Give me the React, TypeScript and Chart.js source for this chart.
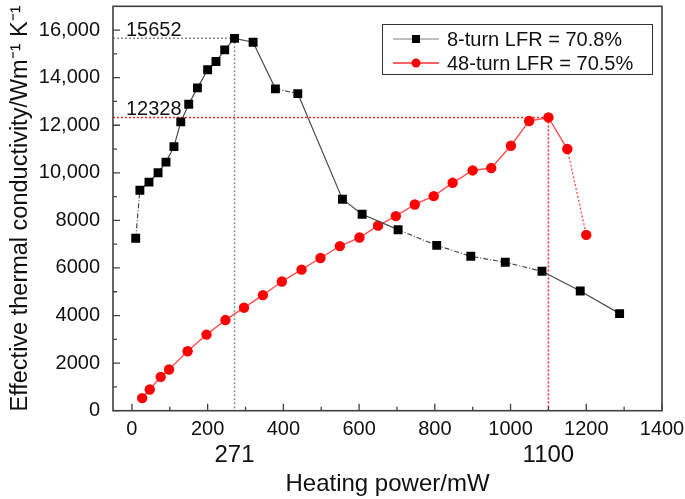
import React, { useEffect, useRef } from "react";
import { Chart, registerables } from "chart.js";
Chart.register(...registerables);

const FONT = "'Liberation Sans', Arial, Helvetica, sans-serif";

const seriesLabels = ["8-turn LFR = 70.8%", "48-turn LFR = 70.5%"];

const turn8Power = [10, 21, 45, 69, 90, 111, 129, 150, 173, 200, 222, 245, 271, 320, 379, 438, 556, 608, 703, 805, 895, 986, 1083, 1184, 1288];
const turn8K = [7250, 9270, 9610, 10000, 10450, 11100, 12140, 12880, 13570, 14330, 14680, 15170, 15652, 15490, 13530, 13330, 8890, 8260, 7610, 6950, 6490, 6240, 5860, 5030, 4080];

const turn48Power = [27, 47, 76, 98, 147, 197, 247, 296, 346, 396, 448, 498, 549, 601, 650, 697, 747, 797, 847, 900, 949, 1001, 1049, 1100, 1150, 1200];
const turn48K = [530, 890, 1420, 1730, 2500, 3200, 3810, 4330, 4860, 5430, 5930, 6420, 6920, 7280, 7780, 8180, 8670, 9020, 9580, 10100, 10200, 11140, 12180, 12328, 11000, 7390];

const xTicks = [0, 200, 400, 600, 800, 1000, 1200, 1400];
const xMinorTicks = [100, 300, 500, 700, 900, 1100, 1300];
const yTicks = [0, 2000, 4000, 6000, 8000, 10000, 12000, 14000, 16000];
const yMinorTicks = [1000, 3000, 5000, 7000, 9000, 11000, 13000, 15000];

const peak8Power = 271;
const peak8K = 15652;
const peak48Power = 1100;
const peak48K = 12328;

const BLACK_DASHED = [0, 14, 18, 19, 20, 21];

const decor = {
  id: "decor",
  beforeDatasetsDraw(chart: any) {
    const { ctx, chartArea: a, scales } = chart;
    const x = scales.x, y = scales.y;
    ctx.save();
    ctx.lineWidth = 1.5;
    ctx.setLineDash([2, 2]);
    ctx.strokeStyle = "#8c8c8c";
    const gx = x.getPixelForValue(peak8Power), gy = y.getPixelForValue(peak8K);
    ctx.beginPath();
    ctx.moveTo(a.left, gy); ctx.lineTo(gx, gy);
    ctx.moveTo(gx, gy); ctx.lineTo(gx, a.bottom);
    ctx.stroke();
    ctx.strokeStyle = "#ff2a2a";
    const rx = x.getPixelForValue(peak48Power), ry = y.getPixelForValue(peak48K);
    ctx.beginPath();
    ctx.moveTo(a.left, ry); ctx.lineTo(rx, ry);
    ctx.moveTo(rx, ry); ctx.lineTo(rx, a.bottom);
    ctx.stroke();
    ctx.setLineDash([]);
    ctx.fillStyle = "#111";
    ctx.font = `20px ${FONT}`;
    ctx.textAlign = "left";
    ctx.textBaseline = "alphabetic";
    ctx.fillText(String(peak8K), a.left + 13, gy - 2);
    ctx.fillText(String(peak48K), a.left + 13, ry - 2);
    ctx.restore();
  },
  afterDatasetsDraw(chart: any) {
    const { ctx, chartArea: a, scales } = chart;
    const x = scales.x, y = scales.y;
    ctx.save();
    ctx.strokeStyle = "#404040";
    ctx.lineWidth = 1.6;
    ctx.strokeRect(a.left, a.top, a.right - a.left, a.bottom - a.top);
    ctx.lineWidth = 1.3;
    ctx.beginPath();
    xTicks.forEach((v) => { const p = x.getPixelForValue(v); ctx.moveTo(p, a.bottom); ctx.lineTo(p, a.bottom - 7); });
    xMinorTicks.forEach((v) => { const p = x.getPixelForValue(v); ctx.moveTo(p, a.bottom); ctx.lineTo(p, a.bottom - 4); });
    yTicks.forEach((v) => { const p = y.getPixelForValue(v); ctx.moveTo(a.left, p); ctx.lineTo(a.left + 7, p); });
    yMinorTicks.forEach((v) => { const p = y.getPixelForValue(v); ctx.moveTo(a.left, p); ctx.lineTo(a.left + 4, p); });
    ctx.stroke();
    ctx.fillStyle = "#111";
    ctx.font = `24px ${FONT}`;
    ctx.textAlign = "center";
    ctx.textBaseline = "middle";
    ctx.fillText(String(peak8Power), x.getPixelForValue(peak8Power), 455);
    ctx.fillText(String(peak48Power), x.getPixelForValue(peak48Power), 455);
    const lx = 382.5, ly = 24.5, lw = 270, lh = 50;
    ctx.fillStyle = "#fff";
    ctx.fillRect(lx, ly, lw, lh);
    ctx.strokeStyle = "#333";
    ctx.lineWidth = 1;
    ctx.strokeRect(lx, ly, lw, lh);
    const rows = [
      { label: seriesLabels[0], line: "#a8a8a8", marker: "#000", style: "rect", cy: 39 },
      { label: seriesLabels[1], line: "#ff3030", marker: "#ff0000", style: "circle", cy: 63 },
    ];
    rows.forEach((r) => {
      ctx.strokeStyle = r.line;
      ctx.lineWidth = 1.5;
      ctx.beginPath();
      ctx.moveTo(393, r.cy); ctx.lineTo(439, r.cy);
      ctx.stroke();
      ctx.fillStyle = r.marker;
      if (r.style === "rect") {
        ctx.fillRect(412, r.cy - 4, 8, 8);
      } else {
        ctx.beginPath(); ctx.arc(416, r.cy, 4.5, 0, Math.PI * 2); ctx.fill();
      }
      ctx.fillStyle = "#111";
      ctx.font = `20px ${FONT}`;
      ctx.textAlign = "left";
      ctx.textBaseline = "middle";
      ctx.fillText(r.label, 447, r.cy + 1);
    });
    ctx.restore();
  },
};

export default function App() {
  const ref = useRef<HTMLCanvasElement | null>(null);
  useEffect(() => {
    if (!ref.current) return;
    const chart = new Chart(ref.current, {
      type: "scatter",
      data: {
        datasets: [
          {
            label: seriesLabels[0],
            data: turn8Power.map((p, i) => ({ x: p, y: turn8K[i] })),
            showLine: true,
            borderColor: "#4a4a4a",
            borderWidth: 1.2,
            backgroundColor: "#000",
            pointBackgroundColor: "#000",
            pointBorderColor: "#000",
            pointBorderWidth: 0,
            pointStyle: "rect",
            pointRadius: 6.3,
            segment: {
              borderDash: (c: any) => (BLACK_DASHED.includes(c.p0DataIndex) ? [5, 2, 1, 2] : undefined),
            },
          },
          {
            label: seriesLabels[1],
            data: turn48Power.map((p, i) => ({ x: p, y: turn48K[i] })),
            showLine: true,
            borderColor: "#ff5050",
            borderWidth: 1.4,
            backgroundColor: "#ff0000",
            pointBackgroundColor: "#ff0000",
            pointBorderColor: "#ff0000",
            pointBorderWidth: 0,
            pointStyle: "circle",
            pointRadius: 5.2,
            segment: {
              borderDash: (c: any) => (c.p0DataIndex === turn48Power.length - 2 ? [2, 2] : undefined),
            },
          },
        ],
      },
      options: {
        animation: false,
        responsive: false,
        devicePixelRatio: 1,
        layout: { padding: { top: 3, right: 23, left: 0, bottom: 0 } },
        plugins: { legend: { display: false }, tooltip: { enabled: false } },
        scales: {
          x: {
            type: "linear",
            min: -50,
            max: 1400,
            afterBuildTicks: (s: any) => { s.ticks = xTicks.map((v) => ({ value: v })); },
            afterFit: (s: any) => { s.height = 88.3; s.paddingLeft = 0; s.paddingRight = 0; },
            grid: { display: false, drawTicks: false },
            border: { display: false },
            ticks: {
              padding: 7,
              autoSkip: false,
              maxRotation: 0,
              color: "#111",
              font: { family: FONT, size: 20 },
              callback: (v: any) => String(v),
            },
            title: {
              display: true,
              text: "Heating power/mW",
              color: "#111",
              font: { family: FONT, size: 24, lineHeight: 1.2 },
              padding: 0,
            },
          },
          y: {
            type: "linear",
            min: 0,
            max: 17000,
            afterBuildTicks: (s: any) => { s.ticks = yTicks.map((v) => ({ value: v })); },
            afterFit: (s: any) => { s.width = 113; s.paddingTop = 0; s.paddingBottom = 0; },
            grid: { display: false, drawTicks: false },
            border: { display: false },
            ticks: {
              padding: 13,
              autoSkip: false,
              color: "#111",
              font: { family: FONT, size: 20 },
              callback: (v: any) => (v >= 10000 ? Number(v).toLocaleString("en-US") : String(v)),
            },
            title: {
              display: true,
              text: "Effective thermal conductivity/Wm\u207B\u00B9 K\u207B\u00B9",
              color: "#111",
              font: { family: FONT, size: 23.5, lineHeight: 1.2 },
              padding: { top: 6, bottom: 0 },
            },
          },
        },
      },
      plugins: [decor],
    } as any);
    return () => chart.destroy();
  }, []);
  return (
    <div style={{ position: "fixed", left: 0, top: 0, width: 685, height: 499, background: "#fff" }}>
      <canvas ref={ref} width={685} height={499} style={{ display: "block" }} />
    </div>
  );
}
